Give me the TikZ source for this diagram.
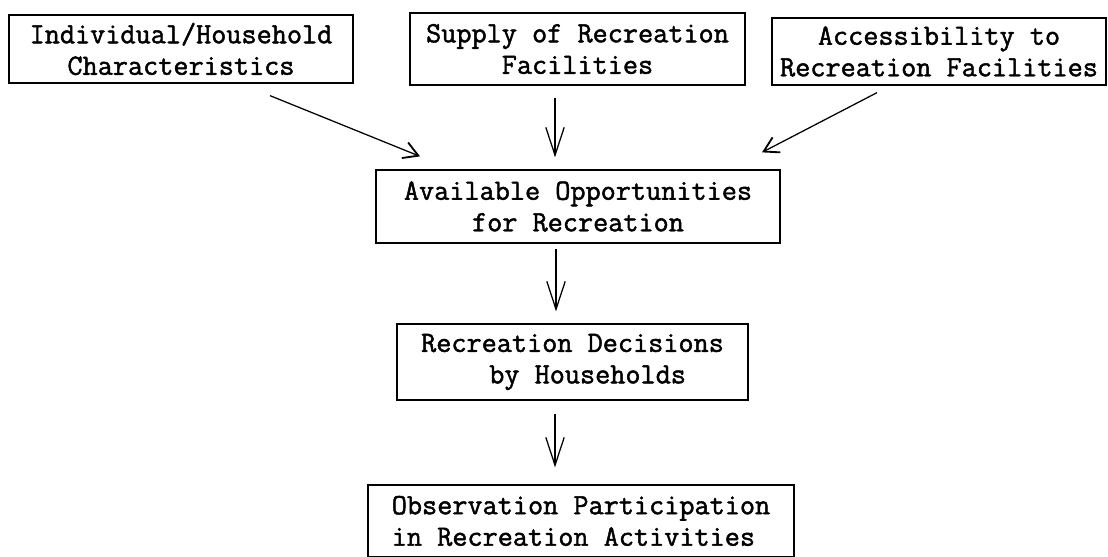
\documentclass[tikz,border=0pt]{standalone}
\usepackage{fontspec}
\setmonofont{Latin Modern Mono}[FakeBold=1.6]
\usetikzlibrary{arrows.meta,positioning,calc}
\tikzset{
  flow box/.style={
    draw=black,
    line width=0.9pt,
    inner sep=0pt,
    align=center,
    font=\ttfamily\fontsize{20.9}{22.4}\selectfont,
  },
  flow arrow/.style={
    -{Straight Barb[length=7mm,width=4.6mm]},
    line width=0.9pt,
  },
  slant arrow/.style={
    -{Straight Barb[length=3.6mm,width=4.2mm,line width=1.3pt]},
    line width=0.9pt,
  },
}

\begin{document}
\begin{tikzpicture}[x=0.025cm,y=-0.025cm]
  \useasboundingbox (0,0) rectangle (1108,557);

  % top row
  \node[flow box, minimum width=8.6cm, minimum height=1.7cm] (indiv) at (181,49)
    {Individual/Household\\Characteristics};
  \node[flow box, minimum width=8.375cm, minimum height=1.8cm] (supply) at (577.5,49)
    {Supply of Recreation\\Facilities};
  \node[flow box, minimum width=8.35cm, minimum height=1.675cm] (access) at (939,51.5)
    {Accessibility to\\Recreation Facilities};

  % chain below
  \node[flow box, minimum width=10.1cm, minimum height=1.825cm] (avail) at (578,206.5)
    {Available Opportunities\\for Recreation};
  \node[flow box, minimum width=8.775cm, minimum height=1.9cm] (decide) at (572.5,362)
    {Recreation Decisions\\\ \ by Households};
  \node[flow box, align=left, minimum width=10.65cm, minimum height=1.8cm] (observ) at (581,521)
    {Observation Participation\\in Recreation Activities};

  \draw[slant arrow] ($(indiv.south)+(89,12)$) -- ($(avail.north)+(-158,-13)$);
  \draw[flow arrow] ($(supply.south)+(-22.5,12)$) -- ($(avail.north)+(-23,-12)$);
  \draw[slant arrow] ($(access.south)+(-62,7)$) -- ($(avail.north)+(184,-17)$);
  \draw[flow arrow] ($(avail.south)+(-22,5)$) -- ($(decide.north)+(-16.5,-12)$);
  \draw[flow arrow] ($(decide.south)+(-17.5,13)$) -- ($(observ.north)+(-26,-17)$);
\end{tikzpicture}
\end{document}
